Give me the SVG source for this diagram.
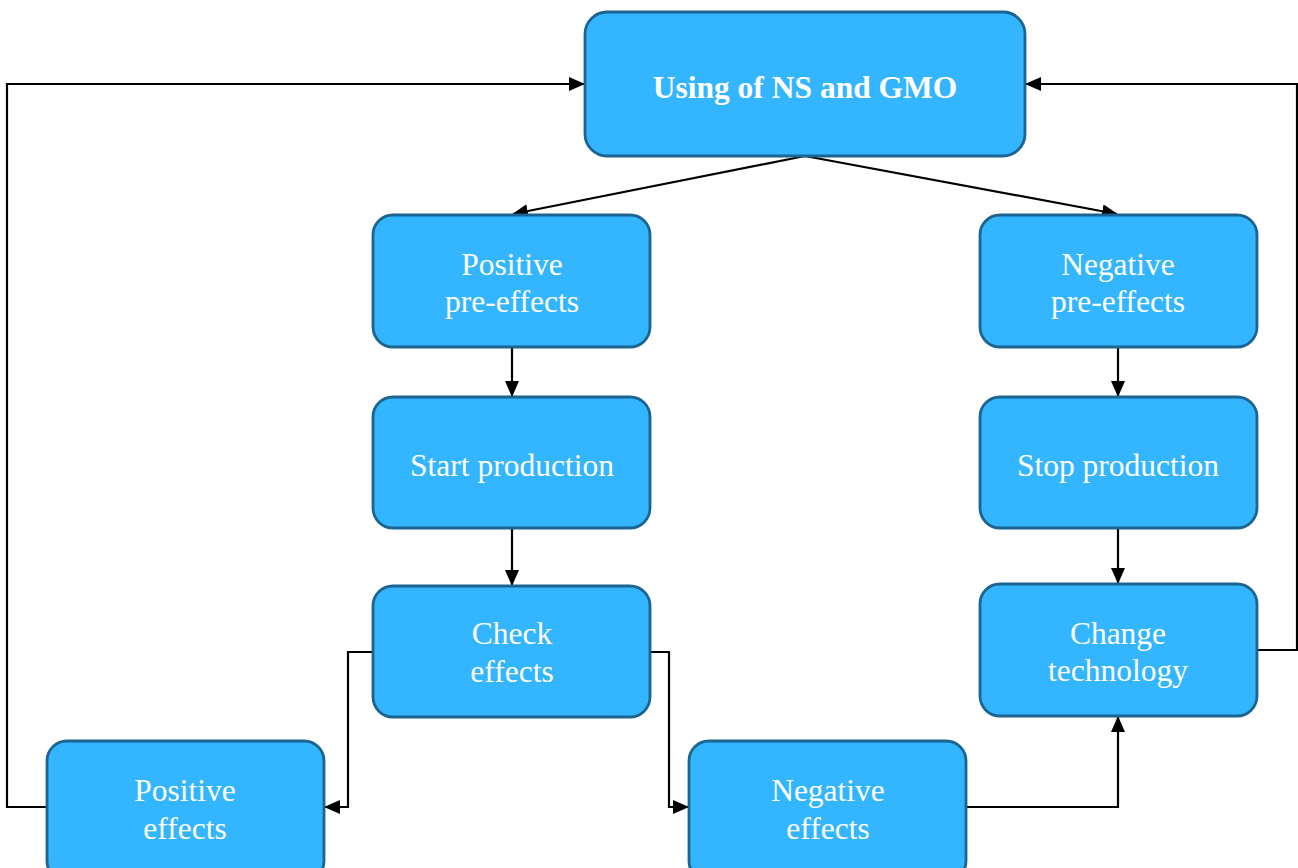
<svg xmlns="http://www.w3.org/2000/svg" width="1298" height="868" viewBox="0 0 1298 868">
<style>
.n{fill:#33b5ff;stroke:#1b6590;stroke-width:2.8}
.t{font-family:"Liberation Serif",serif;font-size:31.5px;fill:#fff;text-anchor:middle}
.b{font-weight:bold}
.c{fill:none;stroke:#000;stroke-width:2.2}
</style>
<defs>
<marker id="a" markerWidth="16" markerHeight="14" refX="15" refY="7" orient="auto" markerUnits="userSpaceOnUse" viewBox="0 0 16 14">
<path d="M0,0L16,7L0,14z" fill="#000"/>
</marker>
</defs>
<rect width="1298" height="868" fill="#fff"/>
<g id="connectors">
<path class="c" d="M805,156L513,214" marker-end="url(#a)"/>
<path class="c" d="M805,156L1117,214" marker-end="url(#a)"/>
<path class="c" d="M512,347V396" marker-end="url(#a)"/>
<path class="c" d="M512,528V585" marker-end="url(#a)"/>
<path class="c" d="M1118,347V396" marker-end="url(#a)"/>
<path class="c" d="M1118,528V583" marker-end="url(#a)"/>
<path class="c" d="M373,652H348V807H325" marker-end="url(#a)"/>
<path class="c" d="M650,652H669V807H688" marker-end="url(#a)"/>
<path class="c" d="M966,807H1118V717" marker-end="url(#a)"/>
<path class="c" d="M1257,650H1297V84H1026" marker-end="url(#a)"/>
<path class="c" d="M47,807H7V84H584" marker-end="url(#a)"/>
</g>
<g id="n-top"><rect class="n" x="585" y="12" width="440" height="144" rx="22"/><text class="t b" x="805" y="98">Using of NS and GMO</text></g>
<g id="n-pospre"><rect class="n" x="373" y="215" width="277" height="132" rx="20"/><text class="t" x="512" y="275">Positive</text><text class="t" x="512" y="312">pre-effects</text></g>
<g id="n-start"><rect class="n" x="373" y="397" width="277" height="131" rx="20"/><text class="t" x="512" y="476">Start production</text></g>
<g id="n-check"><rect class="n" x="373" y="586" width="277" height="131" rx="20"/><text class="t" x="512" y="644">Check</text><text class="t" x="512" y="682">effects</text></g>
<g id="n-negpre"><rect class="n" x="980" y="215" width="277" height="132" rx="20"/><text class="t" x="1118" y="275">Negative</text><text class="t" x="1118" y="312">pre-effects</text></g>
<g id="n-stop"><rect class="n" x="980" y="397" width="277" height="131" rx="20"/><text class="t" x="1118" y="476">Stop production</text></g>
<g id="n-change"><rect class="n" x="980" y="584" width="277" height="132" rx="20"/><text class="t" x="1118" y="644">Change</text><text class="t" x="1118" y="681">technology</text></g>
<g id="n-pos"><rect class="n" x="47" y="741" width="277" height="140" rx="20"/><text class="t" x="185" y="801">Positive</text><text class="t" x="185" y="839">effects</text></g>
<g id="n-neg"><rect class="n" x="689" y="741" width="277" height="140" rx="20"/><text class="t" x="828" y="801">Negative</text><text class="t" x="828" y="839">effects</text></g>
</svg>
